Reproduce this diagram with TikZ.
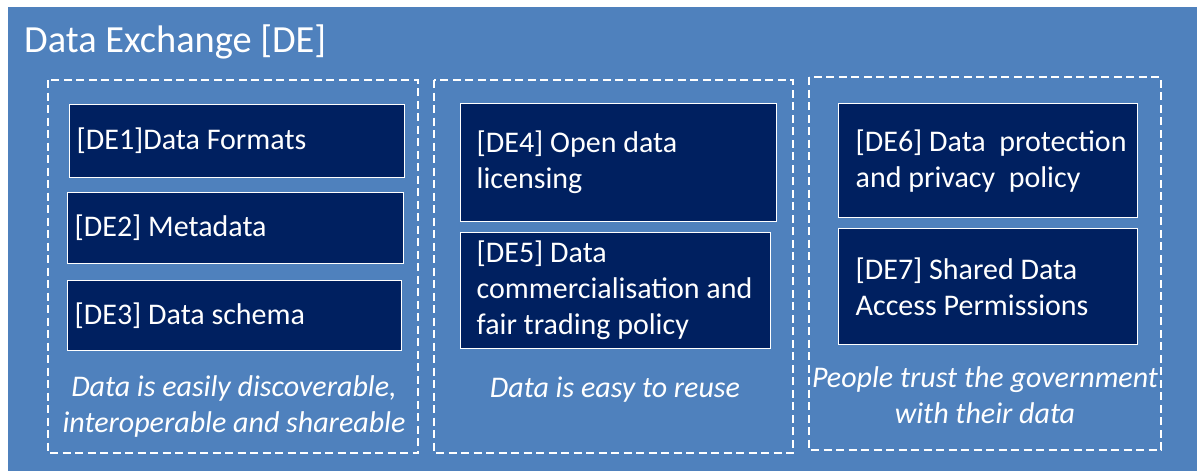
\documentclass[tikz,border=0pt]{standalone}
\usepackage{fontspec}
\setmainfont{Carlito}
\definecolor{bgblue}{HTML}{4F81BD}
\definecolor{navy}{HTML}{002060}
\tikzset{
  dbox/.style={draw=white, line width=1.4pt, fill=navy, text=white, anchor=north west,
    inner ysep=0pt, align=flush left, font=\fontsize{30}{36}\selectfont},
  group/.style={draw=white, line width=1.4pt, dash pattern=on 8pt off 4.5pt},
  caption/.style={text=white, anchor=base, align=center, inner sep=0pt,
    font=\fontsize{30}{35.5}\selectfont\itshape},
}
\begin{document}
\begin{tikzpicture}[x=1pt,y=-1pt]
\useasboundingbox (0,0) rectangle (1197,471);
\fill[white] (0,0) rectangle (1197,471);
\fill[bgblue] (8,7) rectangle (1197,471);
\node[text=white, anchor=base west, inner sep=0pt, font=\fontsize{38.4}{44}\selectfont] (title) at (24,52) {Data Exchange [DE]};
% groups
\draw[group] (48,80) rectangle (418,453);
\draw[group] (434,80) rectangle (793,453);
\draw[group] (809,77) rectangle (1161,450);
% boxes
\node[dbox, inner xsep=7pt, text width=321pt, minimum height=73pt] (de1) at (69,104) {[DE1]Data Formats};
\node[dbox, inner xsep=7pt, text width=322pt, minimum height=71pt] (de2) at (67,192) {[DE2] Metadata};
\node[dbox, inner xsep=7pt, text width=320pt, minimum height=70pt] (de3) at (67,280) {[DE3] Data schema};
\node[dbox, inner xsep=16pt, text width=284pt, minimum height=118pt] (de4) at (460,103) {[DE4] Open data\\licensing};
\node[dbox, inner xsep=16pt, text width=278pt, minimum height=116pt] (de5) at (460,232) {[DE5] Data\\commercialisation and\\fair trading policy};
\node[dbox, inner xsep=17pt, text width=265pt, minimum height=114pt] (de6) at (838,103) {\mbox{[DE6] Data\ \ protection}\\\mbox{and privacy\ \ policy}};
\node[dbox, inner xsep=17pt, text width=265pt, minimum height=116pt] (de7) at (838,228) {[DE7] Shared Data\\Access Permissions};
% captions (base anchor = baseline of the last line)
\node[caption] (cap1) at (234,432) {Data is easily discoverable,\\interoperable and shareable};
\node[caption] (cap2) at (615,397) {Data is easy to reuse};
\node[caption] (cap3) at (985,423) {People trust the government\\with their data};
\end{tikzpicture}
\end{document}
